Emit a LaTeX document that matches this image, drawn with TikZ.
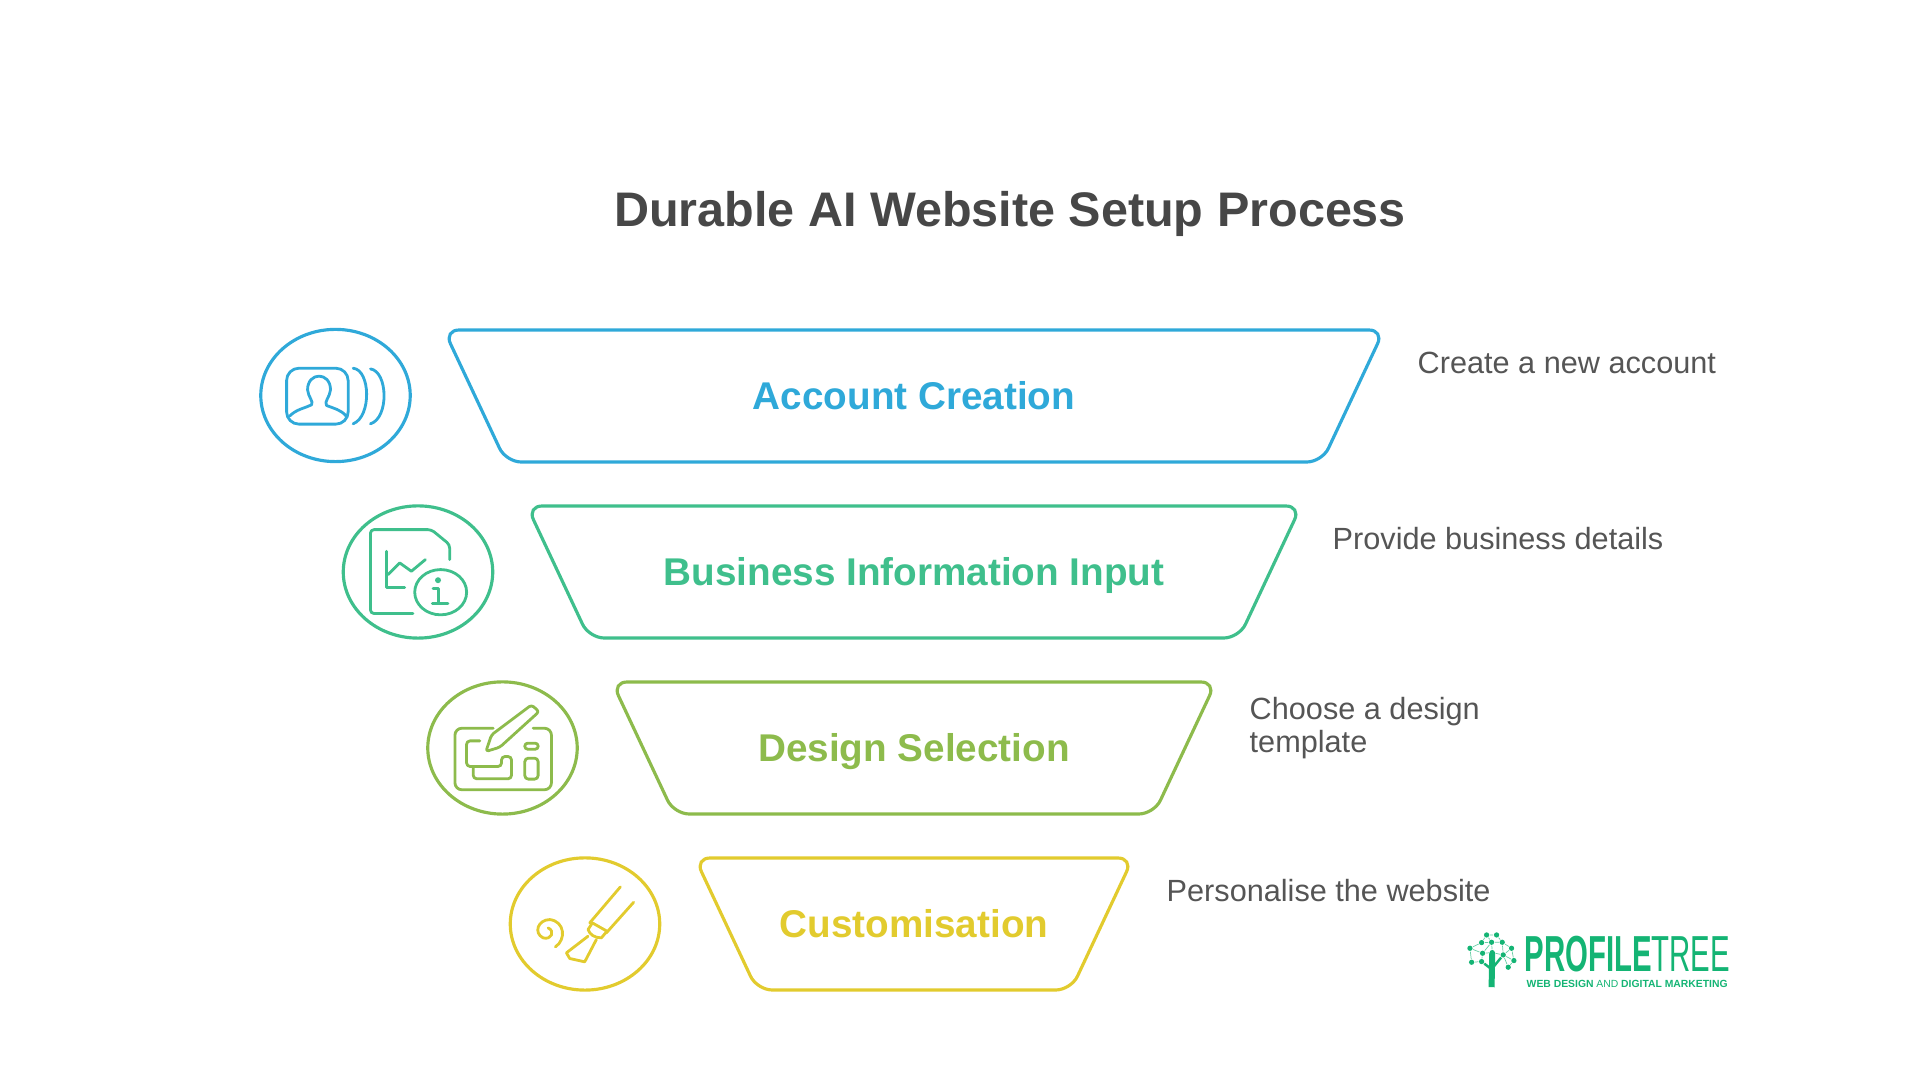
\documentclass[tikz,border=0pt]{standalone}
\usepackage{fontspec}
\setmainfont{Liberation Sans}
\usetikzlibrary{shapes.geometric}
\definecolor{blueline}{HTML}{2FA9D9}
\definecolor{greenline}{HTML}{3FBF8C}
\definecolor{oliveline}{HTML}{8DBB4C}
\definecolor{yellowline}{HTML}{E2CB2E}
\definecolor{greytext}{HTML}{555555}
\definecolor{titletext}{HTML}{474747}
\definecolor{logogreen}{HTML}{14B474}
\tikzset{
  funnel/.style={line width=0.9pt, rounded corners=4.3pt},
  badge/.style={ellipse, draw, line width=0.9pt, minimum width=42.5pt, minimum height=37.6pt, inner sep=0pt},
  glyph/.style={line width=0.8pt, line cap=round, line join=round},
  steplabel/.style={anchor=base, font=\fontsize{11}{13}\selectfont\bfseries},
  steptext/.style={anchor=west, align=left, text=greytext, inner sep=0pt, font=\fontsize{8.72}{9.4}\selectfont},
  treedot/.style={circle, fill=logogreen, inner sep=0pt, minimum size=1.5pt},
  treeline/.style={logogreen!65, line width=0.2pt}
}
\begin{document}
\begin{tikzpicture}[x=0.01cm, y=-0.01cm]
  \useasboundingbox (0,0) rectangle (1920,1080);
  \node[anchor=base, text=titletext, font=\fontsize{13.8}{16}\selectfont\bfseries] (title) at (1010,226.5) {Durable AI Website Setup Process};

  \draw[funnel, blueline] (444,330) -- (1384,330) -- (1322,462) -- (506,462) -- cycle;
  \draw[funnel, greenline] (527,506) -- (1301,506) -- (1239,638) -- (589,638) -- cycle;
  \draw[funnel, oliveline] (612,682) -- (1216,682) -- (1154,814) -- (674,814) -- cycle;
  \draw[funnel, yellowline] (695,858) -- (1133,858) -- (1071,990) -- (757,990) -- cycle;

  \node[steplabel, text=blueline] (account) at (914,410) {Account Creation};
  \node[steplabel, text=greenline] (business) at (914,586) {Business Information Input};
  \node[steplabel, text=oliveline] (design) at (914,762) {Design Selection};
  \node[steplabel, text=yellowline] (custom) at (914,938) {Customisation};

  \node[steptext] (accounttext) at (1417,362.5) {Create a new account};
  \node[steptext] (businesstext) at (1332,539) {Provide business details};
  \node[steptext] (designtext) at (1249,728) {Choose a design\\template};
  \node[steptext] (customtext) at (1166,891) {Personalise the website};

  \node[badge, draw=blueline] (accountbadge) at (335.5,395.5) {};
  \node[badge, draw=greenline] (businessbadge) at (418,572) {};
  \node[badge, draw=oliveline] (designbadge) at (502.5,748) {};
  \node[badge, draw=yellowline] (custombadge) at (585,924) {};

  % account icon
  \begin{scope}[shift={(240,310)}, x=0.00333cm, y=-0.00333cm, glyph, blueline]
    \draw[rounded corners=3.5pt] (140,175) rectangle (325,343);
    \draw (150,318) .. controls (170,298) and (195,295) .. (215,285)
      .. controls (222,275) and (205,262) .. (203,240)
      .. controls (203,185) and (272,185) .. (272,240)
      .. controls (270,262) and (252,275) .. (260,287)
      .. controls (280,295) and (305,300) .. (320,320);
    \draw (340,175) .. controls (392,180) and (396,320) .. (340,342);
    \draw (392,177) .. controls (445,185) and (448,325) .. (392,342);
  \end{scope}

  % business icon
  \begin{scope}[shift={(240,310)}, x=0.00333cm, y=-0.00333cm, glyph, greenline]
    \draw[rounded corners=1pt] (520,912) -- (392,912) -- (392,660) -- (575,660) -- (630,705) -- (630,750);
    \draw (440,725) -- (440,835) -- (495,835);
    \draw (445,795) -- (480,760) -- (515,785) -- (557,750);
    \draw (603,848) ellipse [x radius=78, y radius=68];
    \fill (595,812) circle [radius=9];
    \draw (580,838) -- (597,838) -- (597,881);
    \draw (578,882) -- (625,882);
  \end{scope}

  % design icon
  \begin{scope}[shift={(410,660)}, x=0.00333cm, y=-0.00333cm, glyph, oliveline]
    \draw[rounded corners=2pt] (250,205) -- (135,205) -- (135,390) -- (425,390) -- (425,205) -- (370,205);
    \draw[rounded corners=1pt] (210,243) -- (170,243) -- (170,320) -- (275,320) -- (275,290) -- (305,290) -- (305,357) -- (190,357) -- (190,320);
    \draw[rounded corners=0.8pt] (228,275) -- (245,225) -- (365,135) -- (388,155) -- (270,262) -- cycle;
    \draw[rounded corners=0.8pt] (345,250) rectangle (385,268);
    \draw[rounded corners=1pt] (345,295) rectangle (385,358);
  \end{scope}

  % custom icon
  \begin{scope}[shift={(410,660)}, x=0.00333cm, y=-0.00333cm, glyph, yellowline]
    \draw (437,862) .. controls (470,840) and (465,785) .. (420,780)
      .. controls (385,780) and (370,820) .. (400,835)
      .. controls (425,842) and (437,815) .. (415,805);
    \draw (540,790) -- (632,682);
    \draw (590,820) -- (672,728);
    \draw (548,790) -- (592,815) -- (575,835) .. controls (555,835) and (540,825) .. (535,810) -- cycle;
    \draw (535,830) -- (470,880) -- (480,897) -- (525,907) -- (560,840);
  \end{scope}

  % logo
  \begin{scope}[shift={(1440,910)}, x=0.00333cm, y=-0.00333cm]
    \node[treedot] (t1) at (90,115) {};
    \node[treedot] (t2) at (125,98) {};
    \node[treedot] (t3) at (155,97) {};
    \node[treedot] (t4) at (187,97) {};
    \node[treedot] (t5) at (215,115) {};
    \node[treedot] (t6) at (222,152) {};
    \node[treedot] (t7) at (205,172) {};
    \node[treedot] (t8) at (95,157) {};
    \node[treedot] (t9) at (125,155) {};
    \node[treedot] (t10) at (157,128) {};
    \node[treedot] (t11) at (140,75) {};
    \node[treedot] (t12) at (170,75) {};
    \node[treedot] (t13) at (190,135) {};
    \node[treedot] (t14) at (128,130) {};
    \draw[treeline] (t1) -- (t2) -- (t11) -- (t12) -- (t4) -- (t5) -- (t6) -- (t7) -- (t13) -- (t5);
    \draw[treeline] (t1) -- (t14) -- (t3) -- (t4) -- (t13) -- (t10) -- (t14) -- (t9) -- (t8) -- (t1);
    \draw[treeline] (t3) -- (t10) (t2) -- (t3) -- (t11) (t13) -- (t6);
    \coordinate (treetop) at (157,128);
    \coordinate (treefoot) at (155,232);
    \draw[logogreen, line width=1.7pt] (treetop) -- (treefoot);
    \draw[logogreen, line width=0.7pt] (t9) -- (155,178) -- (t13);
  \end{scope}
  \node[anchor=west, inner sep=0pt, text=logogreen, font=\fontsize{14.4}{15}\selectfont, xscale=0.58] (logoname) at (1524,954) {\textbf{PROFILE}TREE};
  \node[anchor=west, inner sep=0pt, text=logogreen, font=\fontsize{2.95}{3.2}\selectfont\bfseries] (logosub) at (1526,984) {WEB DESIGN {\mdseries AND} DIGITAL MARKETING};
\end{tikzpicture}
\end{document}
